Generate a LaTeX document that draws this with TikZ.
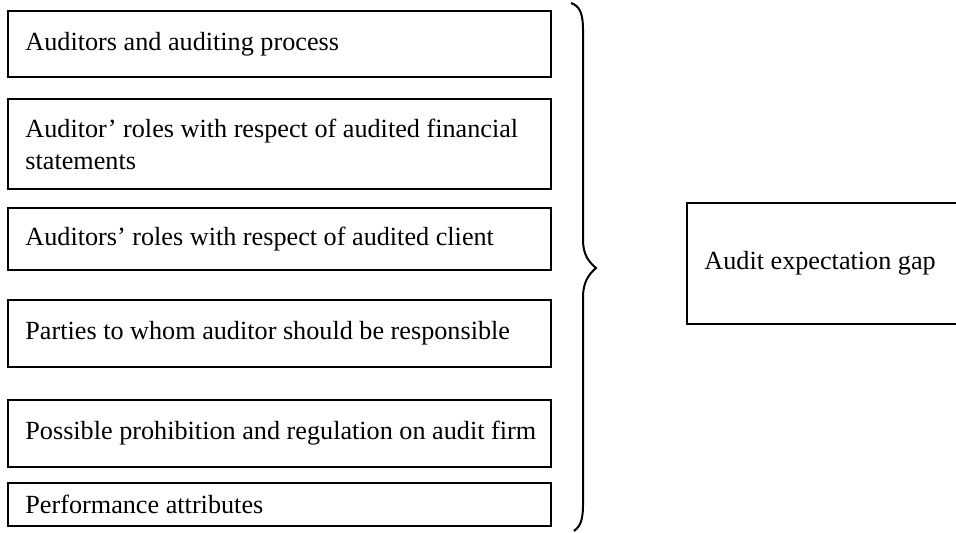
\documentclass[tikz,border=0pt]{standalone}
\usepackage{fontspec}
\setmainfont{Liberation Serif}
\usetikzlibrary{positioning}
\tikzstyle{box}=[draw,line width=1pt,anchor=north west,minimum width=271.5pt,inner sep=0pt]
\tikzstyle{lbl}=[inner sep=0pt,align=left,font=\fontsize{13.1pt}{16pt}\selectfont]
\begin{document}
\begin{tikzpicture}[x=0.5pt,y=-0.5pt]
\useasboundingbox (0,0) rectangle (956,532);
%
% boxes on the left
\node[box,minimum height=33pt] (b1) at (7,10) {};
\node[box,minimum height=45pt] (b2) at (7,98) {};
\node[box,minimum height=31pt] (b3) at (7,207) {};
\node[box,minimum height=33.5pt] (b4) at (7,299) {};
\node[box,minimum height=33.5pt] (b5) at (7,399) {};
\node[box,minimum height=21.5pt] (b6) at (7,482) {};
%
\node[lbl,right=9pt of b1.west] (t1) {Auditors and auditing process};
\node[lbl,right=9pt of b2.west] (t2) {Auditor’ roles with respect of audited financial\\statements};
\node[lbl,right=9pt of b3.west] (t3) {Auditors’ roles with respect of audited client};
\node[lbl,right=9pt of b4.west] (t4) {Parties to whom auditor should be responsible};
\node[lbl,right=9pt of b5.west] (t5) {Possible prohibition and regulation on audit firm};
\node[lbl,right=9pt of b6.west] (t6) {Performance attributes};
%
% the brace
\draw[line width=1pt] (571,3) .. controls (580,6) and (583,14) .. (583,30) -- (583,240)
  .. controls (583,255) and (589,262) .. (596,268)
  .. controls (589,274) and (583,282) .. (583,297) -- (583,505)
  .. controls (583,520) and (580,527) .. (574,531);
%
% box on the right
\node[box,minimum width=137pt,minimum height=60.5pt] (gap) at (686,202) {};
\node[lbl,right=9pt of gap.west] (tgap) {Audit expectation gap};
\end{tikzpicture}
\end{document}
